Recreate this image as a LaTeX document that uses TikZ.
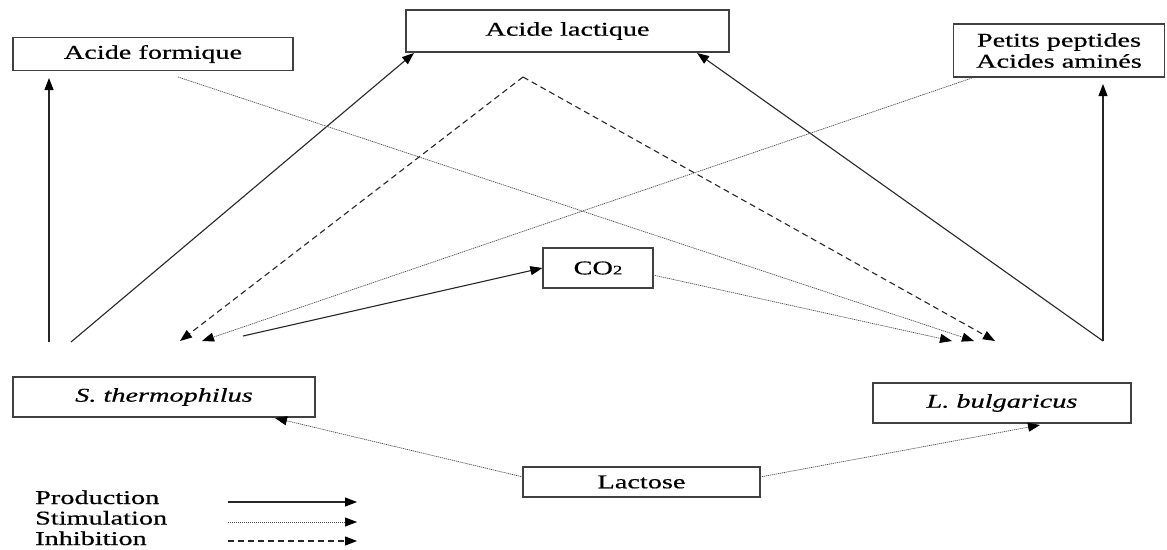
\documentclass[tikz,border=0pt]{standalone}
\usepackage{fontspec}
\setmainfont{Liberation Serif}[FakeStretch=1.45,FakeBold=0.6]
\usetikzlibrary{arrows.meta}
\begin{document}
\begin{tikzpicture}[x=1pt,y=-1pt,
  box/.style={draw=black!75,line width=1.3pt,inner sep=0pt,align=center,
    font=\fontsize{19.5}{21}\selectfont},
  tip/.style={-{Triangle[length=12pt,width=9pt,black]}},
  prod/.style={tip,line width=1.1pt,black!85},
  stim/.style={tip,line width=0.7pt,black!70,dash pattern=on 1.2pt off 0.8pt},
  inhib/.style={tip,line width=1.1pt,black!85,dash pattern=on 6pt off 4pt},
  legtext/.style={anchor=base west,inner sep=0pt,font=\fontsize{19.5}{21}\selectfont}]
\useasboundingbox (0,0) rectangle (1167,549);
% boxes
\node[box,minimum width=280pt,minimum height=33pt] (formique) at (153,54) {Acide formique};
\node[box,minimum width=323pt,minimum height=42pt] (lactique) at (567.5,31) {Acide lactique};
\node[box,minimum width=211pt,minimum height=53pt] (peptides) at (1059,50.5) {Petits peptides\\Acides aminés};
\node[box,minimum width=110pt,minimum height=40pt] (co2) at (598,268) {CO{\fontsize{13}{13}\selectfont 2}};
\node[box,minimum width=302pt,minimum height=40pt] (sth) at (164,397) {\itshape S. thermophilus};
\node[box,minimum width=258pt,minimum height=40pt] (lbu) at (1002,403) {\itshape L. bulgaricus};
\node[box,minimum width=237pt,minimum height=30pt] (lactose) at (641.5,482) {Lactose};
% coordinates
\coordinate (sA) at (49,342);
\coordinate (fA) at (49,78);
\coordinate (sB) at (71,342);
\coordinate (lA) at (414,53);
\coordinate (sC) at (243,336);
\coordinate (apex) at (523,77);
\coordinate (fS) at (178,77);
\coordinate (pS) at (972,78);
\coordinate (tS1) at (180,341);
\coordinate (tS2) at (202,341);
\coordinate (tL1) at (952,341);
\coordinate (tL2) at (974,341);
\coordinate (tL3) at (995,341);
\coordinate (lL) at (1103,341);
\coordinate (pA) at (1103,84);
\coordinate (lB) at (697,53);
\coordinate (co2e) at (653,275);
\coordinate (lacL) at (523,477);
\coordinate (lacR) at (760,477);
\coordinate (sthT) at (275,418);
\coordinate (lbuT) at (1040,425);
% production
\draw[prod] (sA) -- (fA);
\draw[prod] (sB) -- (lA);
\draw[prod] (sC) -- (co2.west);
\draw[prod] (lL) -- (pA);
\draw[prod] (lL) -- (lB);
% inhibition
\draw[inhib] (apex) -- (tS1);
\draw[inhib] (apex) -- (tL3);
% stimulation
\draw[stim] (fS) -- (tL2);
\draw[stim] (pS) -- (tS2);
\draw[stim] (co2e) -- (tL1);
\draw[stim] (lacL) -- (sthT);
\draw[stim] (lacR) -- (lbuT);
% legend
\node[legtext] (lp) at (35,504) {Production};
\node[legtext] (ls) at (35,524.5) {Stimulation};
\node[legtext] (li) at (35,545) {Inhibition};
\coordinate (a1) at (228,502);
\coordinate (b1) at (357,502);
\coordinate (a2) at (228,522);
\coordinate (b2) at (357,522);
\coordinate (a3) at (228,541);
\coordinate (b3) at (357,541);
\draw[prod] (a1) -- (b1);
\draw[stim] (a2) -- (b2);
\draw[inhib] (a3) -- (b3);
\end{tikzpicture}
\end{document}
